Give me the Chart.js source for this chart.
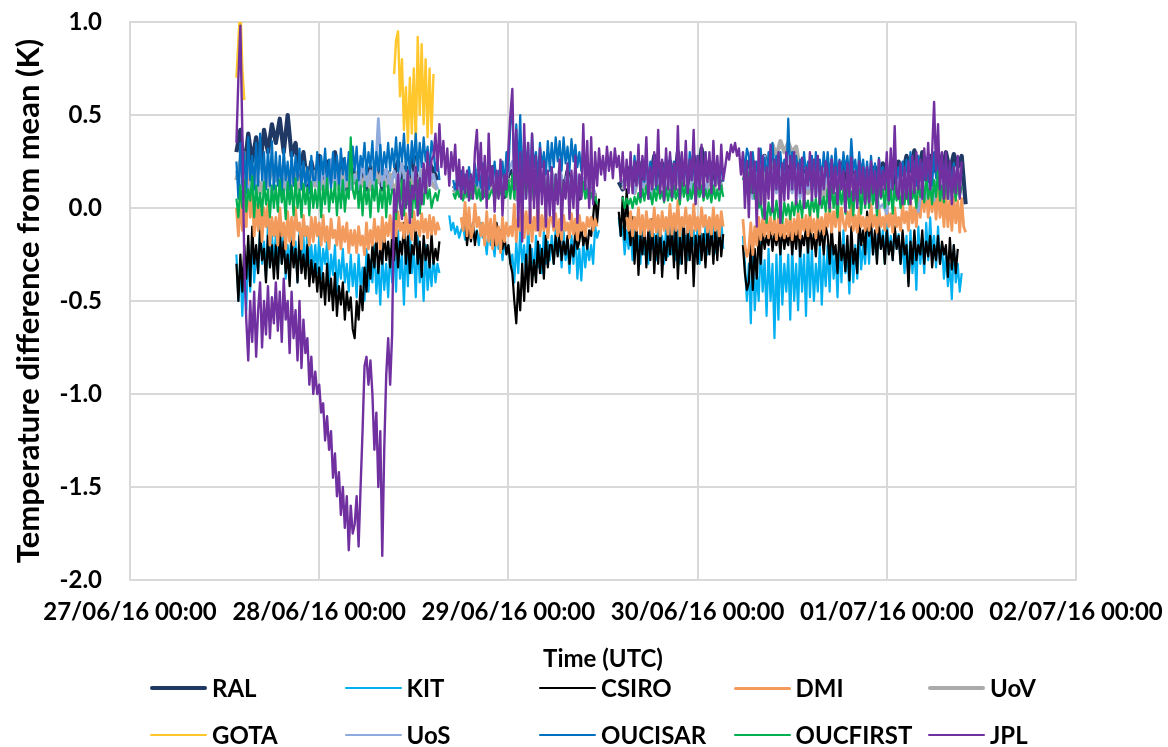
<!DOCTYPE html>
<html>
<head>
<meta charset="utf-8">
<title>Temperature difference from mean</title>
<script src="https://cdn.jsdelivr.net/npm/chart.js@4.4.1/dist/chart.umd.min.js"></script>
<style>
  html, body { margin: 0; padding: 0; background: #ffffff; }
  #wrap { position: relative; width: 1168px; height: 747px; overflow: hidden; }
  #chart { position: absolute; left: 0; top: 0; }
  .leg { position: absolute; height: 0; font: bold 24px Lato, "Open Sans", sans-serif; color: #000; white-space: nowrap; }
  .leg .sw { position: absolute; left: 0; width: 57px; }
  .leg .tx { position: absolute; left: 62px; top: -15px; line-height: 30px; }
</style>
</head>
<body>
<div id="wrap">
  <canvas id="chart" width="1168" height="747"></canvas>
  <div id="legend"></div>
</div>
<script>
// Hours are counted from 27/06/16 00:00 UTC; every series starts at START_HOUR
const START_HOUR = 13.5;
const HALF_HOUR = 0.5;
const QUARTER_HOUR = 0.25;

const TICK_LABELS = ['27/06/16 00:00', '28/06/16 00:00', '29/06/16 00:00', '30/06/16 00:00', '01/07/16 00:00', '02/07/16 00:00'];
const SERIES_NAMES = ['RAL', 'KIT', 'CSIRO', 'DMI', 'UoV', 'GOTA', 'UoS', 'OUCISAR', 'OUCFIRST', 'JPL'];

// Difference from the mean (K). Half-hourly series: 10 values per row; quarter-hourly: 20 per row (5 hours)
const RAL = [
  0.3, 0.42, 0.2, 0.4, 0.25, 0.38, 0.22, 0.42, 0.3, 0.45,
  0.35, 0.48, 0.3, 0.5, 0.28, 0.35, 0.15, 0.3, 0.12, 0.25,
  0.15, 0.28, 0.12, 0.25, 0.18, 0.3, 0.14, 0.26, 0.1, 0.22,
  0.18, 0.08, 0.2, 0.1, 0.22, 0.12, 0.25, 0.1, 0.2, 0.15,
  0.18, 0.25, 0.12, 0.22, 0.15, 0.28, 0.1, 0.2, 0.16, 0.24,
  0.2, 0.15, null, null, null, 0.12, 0.1, 0.18, 0.08, 0.15,
  0.12, 0.2, 0.08, 0.18, 0.1, 0.22, 0.12, 0.2, 0.06, 0.18,
  0.2, 0.05, 0.25, 0.1, 0.22, 0.08, 0.2, 0.12, 0.18, 0.05,
  0.15, 0.05, 0.18, 0.08, 0.2, 0.1, 0.16, 0.05, 0.14, 0.08,
  0.12, 0.06, null, null, null, null, null, 0.14, 0.1, 0.2,
  0.22, 0.12, 0.25, 0.1, 0.2, 0.15, 0.28, 0.12, 0.24, 0.18,
  0.25, 0.12, 0.3, 0.15, 0.22, 0.1, 0.28, 0.14, 0.32, 0.18,
  0.25, 0.12, 0.22, 0.1, null, null, null, null, null, 0.2,
  0.25, 0.1, 0.22, 0.15, 0.28, 0.12, 0.25, 0.1, 0.2, 0.14,
  0.22, 0.1, 0.25, 0.12, 0.2, 0.15, 0.24, 0.1, 0.18, 0.12,
  0.2, 0.1, 0.22, 0.14, 0.25, 0.12, 0.2, 0.15, 0.22, 0.1,
  0.2, 0.12, 0.22, 0.1, 0.24, 0.15, 0.2, 0.12, 0.25, 0.18,
  0.28, 0.2, 0.31, 0.18, 0.3, 0.22, 0.28, 0.2, 0.3, 0.19,
  0.3, 0.2, 0.29, 0.22, 0.28, 0.02
];

const KIT = [
  -0.25, -0.5, -0.3, -0.58, -0.28, -0.55, -0.2, -0.45, -0.15, -0.4, -0.22, -0.35, -0.1, -0.3, -0.18, -0.38, -0.08, -0.32, -0.15, -0.28,
  -0.15, -0.35, -0.08, -0.3, -0.12, -0.38, -0.2, -0.32, -0.1, -0.28, -0.18, -0.4, -0.12, -0.3, -0.15, -0.36, -0.1, -0.3, -0.2, -0.34,
  -0.2, -0.35, -0.15, -0.38, -0.22, -0.3, -0.18, -0.42, -0.25, -0.36, -0.2, -0.45, -0.28, -0.38, -0.22, -0.4, -0.3, -0.45, -0.25, -0.42,
  -0.3, -0.48, -0.25, -0.42, -0.32, -0.5, -0.22, -0.45, -0.28, -0.4, -0.2, -0.46, -0.3, -0.52, -0.25, -0.44, -0.3, -0.48, -0.22, -0.4,
  -0.2, -0.45, -0.12, -0.38, -0.25, -0.52, -0.18, -0.42, -0.1, -0.35, -0.22, -0.48, -0.15, -0.4, -0.28, -0.5, -0.2, -0.44, -0.3, -0.42,
  -0.25, -0.4, -0.3, -0.35, null, null, null, null, -0.04, -0.12, -0.08, -0.14, -0.1, -0.16, -0.12, -0.09, -0.17, -0.1, -0.15, -0.12,
  -0.1, -0.17, -0.12, -0.2, -0.08, -0.16, -0.15, -0.25, -0.12, -0.2, -0.18, -0.26, -0.12, -0.22, -0.15, -0.28, -0.18, -0.24, -0.2, -0.3,
  -0.25, -0.4, -0.18, -0.35, -0.12, -0.3, -0.2, -0.38, -0.1, -0.28, -0.22, -0.36, -0.15, -0.32, -0.2, -0.35, -0.12, -0.3, -0.18, -0.28,
  -0.15, -0.3, -0.1, -0.25, -0.18, -0.32, -0.12, -0.28, -0.2, -0.35, -0.15, -0.3, -0.12, -0.38, -0.22, -0.39, -0.18, -0.32, -0.2, -0.28,
  -0.2, -0.3, -0.1, -0.16, -0.12, null, null, null, null, null, null, null, null, null, -0.05, -0.15, -0.1, -0.25, -0.12, -0.22,
  -0.12, -0.28, -0.05, -0.22, -0.15, -0.3, -0.08, -0.25, -0.18, -0.3, -0.1, -0.22, -0.14, -0.28, -0.06, -0.24, -0.15, -0.3, -0.1, -0.26,
  -0.1, -0.25, -0.06, -0.28, -0.12, -0.3, -0.08, -0.22, -0.15, -0.28, -0.05, -0.24, -0.12, -0.26, -0.08, -0.3, -0.14, -0.22, -0.1, -0.25,
  -0.1, -0.2, -0.08, -0.24, -0.12, -0.2, -0.06, -0.22, null, null, null, null, null, null, null, null, null, -0.15, -0.3, -0.5,
  -0.3, -0.62, -0.2, -0.55, -0.35, -0.5, -0.18, -0.45, -0.28, -0.58, -0.22, -0.5, -0.3, -0.7, -0.25, -0.6, -0.2, -0.52, -0.3, -0.45,
  -0.25, -0.6, -0.2, -0.5, -0.3, -0.55, -0.18, -0.45, -0.25, -0.58, -0.15, -0.48, -0.22, -0.5, -0.3, -0.45, -0.2, -0.52, -0.25, -0.42,
  -0.2, -0.45, -0.15, -0.38, -0.25, -0.48, -0.18, -0.4, -0.12, -0.35, -0.22, -0.46, -0.15, -0.4, -0.2, -0.38, -0.12, -0.33, -0.2, -0.3,
  -0.1, -0.3, -0.06, -0.25, -0.14, -0.28, -0.08, -0.22, -0.12, -0.3, -0.06, -0.24, -0.15, -0.28, -0.1, -0.22, -0.14, -0.3, -0.18, -0.35,
  -0.15, -0.4, -0.12, -0.35, -0.2, -0.44, -0.1, -0.3, -0.18, -0.35, -0.08, -0.28, -0.05, -0.25, -0.15, -0.32, -0.1, -0.3, -0.2, -0.38,
  -0.25, -0.42, -0.3, -0.49, -0.2, -0.4, -0.3, -0.45, -0.35, null, null
];

const CSIRO = [
  -0.3, -0.5, -0.25, -0.45, -0.2, -0.38, -0.15, -0.42, -0.1, -0.3, -0.2, -0.35, -0.12, -0.28, -0.22, -0.4, -0.15, -0.32, -0.2, -0.38,
  -0.2, -0.38, -0.12, -0.3, -0.18, -0.35, -0.25, -0.42, -0.18, -0.32, -0.22, -0.4, -0.15, -0.35, -0.25, -0.38, -0.2, -0.42, -0.28, -0.4,
  -0.3, -0.45, -0.32, -0.48, -0.35, -0.52, -0.3, -0.5, -0.38, -0.55, -0.35, -0.58, -0.42, -0.52, -0.4, -0.6, -0.45, -0.55, -0.48, -0.65,
  -0.7, -0.5, -0.6, -0.42, -0.55, -0.32, -0.45, -0.25, -0.38, -0.2, -0.32, -0.15, -0.35, -0.22, -0.3, -0.12, -0.28, -0.18, -0.32, -0.15,
  -0.28, -0.12, -0.32, -0.18, -0.25, -0.08, -0.3, -0.15, -0.35, -0.2, -0.25, -0.1, -0.3, -0.18, -0.37, -0.15, -0.28, -0.2, -0.32, -0.14,
  -0.3, -0.22, -0.28, -0.18, null, null, null, null, null, null, null, null, null, null, null, null, -0.05, -0.2, -0.1, -0.18,
  -0.08, -0.2, -0.12, null, null, null, null, null, null, null, -0.1, -0.2, -0.08, -0.18, -0.12, -0.22, -0.15, -0.25, -0.2, -0.3,
  -0.35, -0.5, -0.62, -0.4, -0.55, -0.3, -0.5, -0.25, -0.45, -0.2, -0.42, -0.28, -0.4, -0.18, -0.35, -0.22, -0.38, -0.15, -0.32, -0.2,
  -0.2, -0.3, -0.15, -0.26, -0.13, -0.28, -0.18, -0.25, -0.15, -0.3, -0.2, -0.26, -0.12, -0.22, -0.18, -0.1, -0.2, -0.14, -0.22, -0.12,
  -0.15, -0.05, 0.08, -0.08, 0.05, null, null, null, null, null, null, null, null, null, -0.02, -0.15, 0.06, -0.17, 0.1, -0.1,
  -0.2, -0.05, -0.3, -0.1, -0.36, -0.15, -0.25, -0.08, -0.32, -0.12, -0.28, -0.06, -0.35, -0.15, -0.3, -0.1, -0.37, -0.18, -0.28, -0.12,
  -0.25, -0.1, -0.32, -0.08, -0.38, -0.15, -0.3, -0.06, -0.35, -0.12, -0.28, -0.1, -0.42, -0.15, -0.3, -0.08, -0.28, -0.14, -0.32, -0.12,
  -0.25, -0.1, -0.3, -0.12, -0.28, -0.08, -0.26, -0.14, null, null, null, null, null, null, null, null, null, -0.2, -0.35, -0.44,
  -0.4, -0.2, -0.44, -0.22, -0.38, -0.15, -0.3, -0.12, -0.22, -0.15, -0.2, -0.1, -0.23, -0.14, -0.2, -0.12, -0.25, -0.1, -0.22, -0.15,
  -0.2, -0.1, -0.25, -0.12, -0.22, -0.08, -0.26, -0.15, -0.2, -0.1, -0.24, -0.08, -0.22, -0.14, -0.26, -0.1, -0.2, -0.12, -0.25, -0.1,
  -0.15, -0.3, -0.1, -0.25, -0.2, -0.35, -0.12, -0.28, -0.2, -0.34, -0.15, -0.39, -0.1, -0.3, -0.22, -0.35, -0.05, -0.2, -0.12, -0.25,
  -0.02, -0.15, -0.08, -0.25, -0.12, -0.3, -0.1, -0.22, -0.15, -0.3, -0.12, -0.25, -0.18, -0.28, -0.1, -0.22, -0.15, -0.3, -0.12, -0.25,
  -0.2, -0.42, -0.18, -0.3, -0.12, -0.28, -0.2, -0.25, -0.12, -0.3, -0.18, -0.26, -0.15, -0.32, -0.2, -0.28, -0.15, -0.3, -0.18, -0.25,
  -0.2, -0.37, -0.16, -0.33, -0.2, -0.35, -0.22, null, null, null, null
];

const DMI = [
  0.0, -0.15, 0.05, -0.12, 0.3, -0.1, 0.2, -0.05, 0.1, -0.15, 0.02, -0.12, 0.05, -0.18, 0.0, -0.1, 0.02, -0.2, -0.05, -0.15,
  -0.05, -0.2, 0.0, -0.15, -0.08, -0.22, -0.02, -0.18, -0.05, -0.2, 0.0, -0.12, -0.08, -0.22, -0.04, -0.15, -0.1, -0.2, -0.05, -0.18,
  -0.05, -0.15, -0.08, -0.2, -0.04, -0.18, -0.1, -0.22, -0.06, -0.16, -0.12, -0.2, -0.05, -0.22, -0.1, -0.18, -0.08, -0.24, -0.12, -0.2,
  -0.12, -0.24, -0.1, -0.2, -0.15, -0.25, -0.08, -0.22, -0.12, -0.2, -0.06, -0.18, -0.1, -0.22, -0.05, -0.18, -0.08, -0.15, -0.04, -0.16,
  -0.05, -0.15, -0.02, -0.12, -0.08, -0.16, -0.03, -0.14, -0.06, -0.17, -0.02, -0.12, -0.07, -0.15, -0.03, -0.13, -0.06, -0.16, -0.04, -0.14,
  -0.05, -0.14, -0.08, -0.12, null, null, null, null, null, null, null, null, null, null, -0.05, -0.12, 0.03, -0.15, 0.0, -0.16,
  -0.12, 0.02, -0.1, -0.05, -0.15, -0.08, -0.2, -0.02, -0.18, -0.06, -0.22, -0.04, -0.2, -0.1, -0.24, -0.05, -0.18, -0.08, -0.15, -0.1,
  -0.15, 0.02, -0.18, -0.05, -0.12, 0.04, -0.16, -0.02, -0.14, 0.0, -0.18, -0.05, -0.12, 0.02, -0.15, -0.04, -0.12, -0.02, -0.16, -0.05,
  -0.05, -0.12, -0.03, -0.15, -0.06, -0.17, -0.04, -0.12, -0.08, -0.16, -0.03, -0.14, -0.06, -0.17, -0.04, -0.12, -0.08, -0.15, -0.05, -0.1,
  -0.05, -0.12, -0.06, -0.1, null, null, null, null, null, null, null, null, null, null, null, null, null, null, -0.05, -0.12,
  -0.02, -0.15, -0.05, -0.12, 0.0, -0.14, -0.04, -0.15, -0.02, -0.12, -0.06, -0.15, 0.0, -0.13, -0.04, -0.15, -0.02, -0.12, -0.05, -0.14,
  0.02, -0.14, -0.03, -0.12, 0.04, -0.15, -0.05, -0.1, 0.0, -0.13, -0.04, -0.15, 0.02, -0.12, -0.05, -0.14, 0.0, -0.1, -0.04, -0.13,
  -0.05, -0.14, 0.0, -0.12, -0.04, -0.15, -0.02, -0.1, null, null, null, null, null, null, null, null, null, -0.06, -0.2, -0.26,
  -0.22, -0.08, -0.25, -0.1, -0.2, -0.05, -0.17, -0.06, -0.15, -0.04, -0.16, -0.05, -0.14, -0.06, -0.17, -0.05, -0.15, -0.08, -0.16, -0.06,
  -0.15, -0.04, -0.17, -0.06, -0.14, -0.02, -0.16, -0.05, -0.12, -0.04, -0.15, -0.02, -0.13, -0.06, -0.16, -0.04, -0.12, -0.05, -0.14, -0.03,
  -0.1, 0.02, -0.13, -0.02, -0.1, 0.04, -0.12, 0.0, -0.08, -0.12, -0.02, -0.1, 0.03, -0.12, -0.04, -0.13, 0.0, -0.1, -0.05, -0.12,
  -0.05, -0.12, 0.02, -0.1, -0.04, -0.13, 0.0, -0.1, -0.05, -0.12, 0.02, -0.1, -0.03, -0.13, 0.0, -0.1, -0.05, -0.12, 0.02, -0.08,
  -0.02, -0.12, 0.05, -0.08, 0.0, -0.1, 0.06, -0.05, 0.1, -0.02, 0.12, -0.05, 0.08, -0.02, 0.1, -0.06, 0.12, -0.05, 0.06, -0.1,
  0.08, -0.1, 0.05, -0.12, 0.06, -0.08, 0.04, -0.13, 0.05, -0.1, -0.13
];

const UoV = [
  0.15, 0.25, 0.1, 0.22, 0.12, 0.2, 0.08, 0.18, 0.12, 0.22,
  0.15, 0.22, 0.1, 0.2, 0.12, 0.18, 0.1, 0.22, 0.14, 0.2,
  0.12, 0.2, 0.1, 0.18, 0.14, 0.22, 0.1, 0.2, 0.12, 0.18,
  0.15, 0.2, 0.12, 0.18, 0.1, 0.22, 0.14, 0.2, 0.12, 0.18,
  0.08, 0.15, 0.05, 0.2, 0.1, 0.18, 0.12, 0.2, 0.1, 0.16,
  0.12, 0.1, null, null, null, 0.1, 0.08, 0.12, 0.06, 0.1,
  0.08, 0.12, 0.05, 0.1, 0.08, 0.14, 0.06, 0.12, 0.08, 0.15,
  0.15, 0.05, 0.18, 0.08, 0.15, 0.05, 0.14, 0.1, 0.16, 0.08,
  0.14, 0.08, 0.15, 0.1, 0.12, 0.06, 0.15, 0.08, 0.12, 0.06,
  0.1, 0.06, null, null, null, null, null, null, 0.1, 0.14,
  0.15, 0.08, 0.18, 0.1, 0.14, 0.06, 0.16, 0.1, 0.18, 0.08,
  0.15, 0.08, 0.18, 0.1, 0.16, 0.06, 0.2, 0.1, 0.15, 0.08,
  0.16, 0.08, 0.18, 0.1, null, null, null, null, null, 0.15,
  0.15, 0.08, 0.12, 0.02, 0.18, 0.1, 0.34, 0.28, 0.36, 0.3,
  0.35, 0.3, 0.33, 0.2, 0.15, 0.08, 0.18, 0.1, 0.15, 0.06,
  0.15, 0.05, 0.18, 0.1, 0.14, 0.06, 0.16, 0.08, 0.12, 0.05,
  0.12, 0.04, 0.15, 0.08, 0.12, 0.05, 0.14, 0.06, 0.16, 0.08,
  0.14, 0.06, 0.16, 0.08, 0.12, 0.05, 0.18, 0.1, 0.15, 0.06,
  0.14, 0.06, 0.12, 0.08, 0.1, null
];

const GOTA = [
  0.7, 0.9, 1.1, 0.75, 0.58, null, null, null, null, null, null, null, null, null, null, null, null, null, null, null,
  null, null, null, null, null, null, null, null, null, null, null, null, null, null, null, null, null, null, null, null,
  null, null, null, null, null, null, null, null, null, null, null, null, null, null, null, null, null, null, null, null,
  null, null, null, null, null, null, null, null, null, null, null, null, null, null, null, null, null, null, null, null,
  0.72, 0.9, 0.95, 0.6, 0.8, 0.42, 0.65, 0.35, 0.7, 0.4, 0.75, 0.33, 0.92, 0.5, 0.88, 0.45, 0.8, 0.38, 0.75, 0.4,
  0.72, null, null, null, null, null, null, null, null, null, null, null, null, null, null, null, null, null, null, null,
  null, null, null, null, null, null, null, null, null, null, null, null, null, null, null, null, null, null, null, null,
  null, null, null, null, null, null, null, null, null, null, null, null, null, null, null, null, null, null, null, null,
  null, null, null, null, null, null, null, null, null, null, null, null, null, null, null, null, null, null, null, null,
  null, null, null, null, null, null, null, null, null, null, null, null, null, null, null, null, null, null, null, null,
  null, null, null, null, null, null, null, null, null, null, null, null, null, null, null, null, null, null, null, null,
  null, null, null, null, null, null, null, null, null, null, null, null, null, null, null, null, null, null, null, null,
  null, null, null, null, null, null, null, null, null, null, null, null, null, null, null, null, null, null, null, null,
  null, null, null, null, null, null, null, null, null, null, null, null, null, null, null, null, null, null, null, null,
  null, null, null, null, null, null, null, null, null, null, null, null, null, null, null, null, null, null, null, null,
  null, null, null, null, null, null, null, null, null, null, null, null, null, null, null, null, null, null, null, null,
  null, null, null, null, null, null, null, null, null, null, null, null, null, null, null, null, null, null, null, null,
  null, null, null, null, null, null, null, null, null, null, null, null, null, null, null, null, null, null, null, null,
  null, null, null, null, null, null, null, null, null, null, null
];

const UoS = [
  0.2, 0.1, 0.25, 0.05, 0.22, 0.08, 0.28, 0.12, 0.2, 0.06,
  0.22, 0.1, 0.25, 0.05, 0.2, 0.12, 0.24, 0.08, 0.18, 0.1,
  0.2, 0.08, 0.22, 0.1, 0.26, 0.12, 0.2, 0.05, 0.22, 0.1,
  0.18, 0.1, 0.24, 0.12, 0.2, 0.08, 0.48, 0.12, 0.22, 0.1,
  0.2, 0.12, 0.25, 0.1, 0.22, 0.15, 0.28, 0.1, 0.2, 0.12,
  0.18, 0.1, null, null, null, 0.12, 0.08, 0.15, 0.1, 0.18,
  0.12, 0.2, 0.08, 0.16, 0.1, 0.2, 0.12, 0.18, 0.1, 0.2,
  0.25, 0.1, 0.2, 0.05, 0.22, 0.08, 0.18, 0.1, 0.2, 0.08,
  0.2, 0.1, 0.22, 0.12, 0.18, 0.08, 0.2, 0.1, 0.16, 0.08,
  0.14, 0.08, null, null, null, null, null, null, 0.12, 0.18,
  0.2, 0.08, 0.22, 0.1, 0.18, 0.05, 0.2, 0.12, 0.22, 0.08,
  0.18, 0.06, 0.22, 0.1, 0.2, 0.05, 0.24, 0.12, 0.2, 0.08,
  0.2, 0.1, 0.22, 0.08, null, null, null, null, null, 0.22,
  0.2, 0.05, 0.24, 0.1, 0.28, 0.12, 0.2, 0.08, 0.22, 0.1,
  0.2, 0.08, 0.22, 0.05, 0.18, 0.1, 0.2, 0.06, 0.22, 0.1,
  0.18, 0.06, 0.2, 0.1, 0.15, 0.05, 0.2, 0.08, 0.18, 0.04,
  0.15, 0.05, 0.18, 0.0, 0.02, -0.03, 0.15, 0.05, 0.18, 0.08,
  0.15, 0.05, 0.1, -0.02, 0.12, 0.06, 0.16, 0.04, 0.2, 0.08,
  0.15, 0.05, 0.18, 0.1, 0.12, null
];

const OUCISAR = [
  0.25, 0.05, 0.35, 0.12, 0.3, 0.08, 0.38, 0.15, 0.28, 0.1, 0.35, 0.12, 0.4, 0.15, 0.3, 0.1, 0.32, 0.12, 0.36, 0.1,
  0.3, 0.12, 0.28, 0.08, 0.32, 0.15, 0.25, 0.1, 0.3, 0.12, 0.28, 0.15, 0.32, 0.1, 0.25, 0.12, 0.22, 0.08, 0.28, 0.15,
  0.15, 0.3, 0.12, 0.28, 0.18, 0.32, 0.14, 0.26, 0.1, 0.3, 0.16, 0.28, 0.12, 0.32, 0.18, 0.27, 0.15, 0.3, 0.2, 0.33,
  0.2, 0.33, 0.15, 0.28, 0.22, 0.35, 0.18, 0.3, 0.22, 0.36, 0.15, 0.3, 0.2, 0.34, 0.18, 0.3, 0.22, 0.35, 0.2, 0.32,
  0.22, 0.38, 0.2, 0.35, 0.25, 0.4, 0.2, 0.34, 0.18, 0.36, 0.24, 0.4, 0.2, 0.35, 0.22, 0.38, 0.25, 0.33, 0.2, 0.36,
  0.3, 0.2, 0.26, 0.15, null, null, null, null, null, null, 0.15, 0.1, 0.16, 0.12, 0.2, 0.1, 0.18, 0.12, 0.22, 0.14,
  0.15, 0.24, 0.12, 0.2, 0.11, 0.24, 0.14, 0.2, 0.1, 0.22, 0.15, 0.25, 0.12, 0.2, 0.15, 0.25, 0.12, 0.3, 0.2, 0.45,
  0.55, 0.15, 0.45, 0.2, 0.5, 0.12, 0.38, 0.2, 0.35, 0.12, 0.4, 0.22, 0.3, 0.15, 0.35, 0.22, 0.3, 0.18, 0.36, 0.2,
  0.35, 0.22, 0.38, 0.25, 0.36, 0.2, 0.38, 0.24, 0.33, 0.2, 0.37, 0.25, 0.34, 0.22, 0.3, 0.2, 0.32, 0.22, 0.28, 0.18,
  0.25, 0.18, 0.22, 0.15, null, null, null, null, null, null, null, null, null, null, null, null, null, null, 0.2, 0.12,
  0.25, 0.12, 0.28, 0.15, 0.22, 0.1, 0.26, 0.14, 0.3, 0.12, 0.25, 0.15, 0.28, 0.1, 0.3, 0.16, 0.24, 0.12, 0.28, 0.15,
  0.28, 0.12, 0.25, 0.15, 0.3, 0.1, 0.27, 0.16, 0.24, 0.12, 0.3, 0.15, 0.26, 0.1, 0.28, 0.14, 0.25, 0.12, 0.3, 0.16,
  0.25, 0.12, 0.28, 0.15, 0.24, 0.1, 0.26, 0.14, null, null, null, null, null, null, null, null, null, 0.3, 0.2, 0.32,
  0.28, 0.15, 0.3, 0.18, 0.25, 0.12, 0.32, 0.2, 0.27, 0.15, 0.3, 0.18, 0.35, 0.2, 0.28, 0.15, 0.3, 0.18, 0.26, 0.14,
  0.48, 0.18, 0.3, 0.15, 0.28, 0.2, 0.26, 0.12, 0.3, 0.18, 0.25, 0.15, 0.28, 0.12, 0.3, 0.18, 0.26, 0.15, 0.3, 0.17,
  0.3, 0.17, 0.28, 0.15, 0.32, 0.18, 0.26, 0.15, 0.3, 0.2, 0.28, 0.16, 0.37, 0.2, 0.26, 0.15, 0.3, 0.18, 0.26, 0.14,
  0.25, 0.12, 0.28, 0.15, 0.24, 0.1, 0.27, 0.18, 0.22, 0.12, 0.26, 0.15, 0.24, 0.1, 0.28, 0.16, 0.22, 0.12, 0.25, 0.15,
  0.26, 0.14, 0.3, 0.16, 0.25, 0.12, 0.28, 0.18, 0.24, 0.15, 0.27, 0.14, 0.25, 0.12, 0.3, 0.16, 0.24, 0.14, 0.26, 0.15,
  0.25, 0.12, 0.22, 0.15, 0.24, 0.1, 0.2, 0.14, 0.18, null, null
];

const OUCFIRST = [
  0.05, -0.05, 0.12, 0.0, 0.15, -0.02, 0.1, 0.04, 0.17, -0.05, 0.12, 0.0, 0.08, -0.04, 0.14, 0.02, 0.1, -0.05, 0.12, 0.0,
  0.12, -0.02, 0.15, 0.03, 0.1, -0.06, 0.14, 0.02, 0.12, -0.04, 0.16, 0.0, 0.1, -0.05, 0.13, 0.02, 0.11, -0.04, 0.14, 0.0,
  0.1, 0.0, 0.14, -0.05, 0.12, 0.02, 0.16, -0.02, 0.1, 0.03, 0.14, -0.04, 0.12, 0.0, 0.15, -0.02, 0.1, 0.05, 0.38, 0.1,
  0.05, 0.15, 0.0, 0.12, -0.04, 0.14, 0.02, 0.1, -0.05, 0.12, 0.04, 0.15, -0.02, 0.1, 0.0, 0.14, -0.05, 0.12, 0.02, 0.1,
  0.08, -0.06, 0.12, 0.0, 0.15, -0.04, 0.1, 0.02, 0.14, -0.05, 0.12, 0.0, 0.15, -0.03, 0.1, 0.02, 0.14, 0.05, 0.1, 0.0,
  0.05, 0.08, 0.04, 0.1, null, null, null, null, null, null, 0.08, 0.05, 0.1, 0.06, 0.08, 0.04, 0.1, 0.06, 0.12, 0.05,
  0.08, 0.12, 0.05, 0.1, 0.04, 0.12, 0.06, 0.1, 0.05, 0.08, 0.1, 0.04, 0.12, 0.06, 0.1, 0.05, 0.12, 0.06, 0.15, 0.05,
  0.18, 0.05, 0.2, 0.08, 0.15, 0.05, 0.18, 0.06, 0.2, 0.08, 0.14, 0.05, 0.18, 0.06, 0.12, 0.08, 0.16, 0.05, 0.15, 0.06,
  0.15, 0.05, 0.18, 0.08, 0.12, 0.05, 0.15, 0.06, 0.18, 0.05, 0.12, 0.08, 0.15, 0.05, 0.1, 0.06, 0.14, 0.05, 0.1, 0.04,
  0.08, 0.04, 0.06, 0.02, null, null, null, null, null, null, null, null, null, null, null, null, 0.06, 0.0, 0.05, 0.02,
  0.05, 0.0, 0.06, 0.02, 0.08, 0.03, 0.1, 0.04, 0.12, 0.05, 0.08, 0.02, 0.1, 0.04, 0.12, 0.05, 0.09, 0.03, 0.11, 0.04,
  0.1, 0.04, 0.12, 0.05, 0.1, 0.02, 0.14, 0.06, 0.12, 0.04, 0.1, 0.05, 0.13, 0.03, 0.11, 0.06, 0.12, 0.04, 0.1, 0.05,
  0.1, 0.03, 0.12, 0.05, 0.1, 0.04, 0.12, 0.06, null, null, null, null, null, null, null, null, null, 0.15, 0.19, 0.08,
  0.19, 0.08, 0.16, 0.05, 0.12, 0.0, 0.03, -0.05, 0.02, -0.08, 0.03, -0.04, 0.02, -0.06, 0.04, -0.05, 0.02, -0.08, 0.03, -0.04,
  0.02, -0.06, 0.03, -0.04, 0.05, -0.02, 0.04, -0.05, 0.06, 0.0, 0.04, -0.04, 0.06, -0.02, 0.05, -0.05, 0.08, 0.0, 0.06, -0.02,
  0.1, -0.02, 0.13, 0.0, 0.08, -0.05, 0.12, 0.02, 0.1, -0.03, 0.13, 0.0, 0.09, -0.04, 0.12, 0.02, 0.1, -0.03, 0.12, 0.0,
  0.12, 0.0, 0.15, 0.02, 0.1, -0.04, 0.13, 0.05, 0.1, 0.0, 0.14, 0.02, 0.1, -0.03, 0.12, 0.04, 0.1, 0.0, 0.13, 0.02,
  0.12, 0.02, 0.15, 0.05, 0.1, 0.0, 0.14, 0.06, 0.12, 0.03, 0.18, 0.05, 0.12, 0.02, 0.15, 0.06, 0.2, 0.04, 0.12, 0.03,
  0.15, 0.05, 0.18, 0.08, 0.12, 0.04, 0.16, 0.06, 0.12, null, null
];

const JPL = [
  0.35, 0.7, 0.98, 0.4, -0.3, -0.6, -0.82, -0.5, -0.72, -0.45, -0.8, -0.55, -0.4, -0.75, -0.5, -0.68, -0.42, -0.7, -0.48, -0.62,
  -0.4, -0.66, -0.45, -0.72, -0.38, -0.6, -0.5, -0.78, -0.45, -0.7, -0.55, -0.82, -0.5, -0.86, -0.6, -0.78, -0.7, -0.95, -0.8, -1.0,
  -0.88, -1.0, -0.95, -1.1, -1.05, -1.25, -1.12, -1.3, -1.2, -1.45, -1.32, -1.55, -1.42, -1.65, -1.5, -1.72, -1.55, -1.84, -1.6, -1.75,
  -1.7, -1.55, -1.82, -1.5, -1.2, -0.85, -0.8, -0.95, -0.82, -1.0, -1.3, -1.1, -1.5, -1.2, -1.87, -1.3, -0.9, -0.7, -0.95, -0.68,
  0.1, -0.02, 0.18, 0.02, -0.06, 0.15, 0.0, 0.2, -0.08, 0.12, 0.05, 0.22, -0.04, 0.16, 0.02, 0.24, 0.08, 0.3, 0.12, 0.26,
  0.28, 0.4, 0.2, 0.45, 0.22, 0.36, 0.18, 0.32, 0.12, 0.3, 0.2, 0.34, 0.1, 0.26, 0.05, 0.22, 0.08, 0.2, 0.04, 0.18,
  0.05, 0.3, 0.42, 0.15, 0.35, 0.05, 0.28, 0.0, 0.4, 0.12, 0.22, -0.02, 0.2, 0.05, 0.26, -0.04, 0.18, 0.1, 0.32, 0.5,
  0.64, 0.1, 0.42, -0.1, 0.3, -0.18, 0.45, 0.05, 0.35, -0.08, 0.4, 0.0, 0.28, -0.12, 0.32, 0.02, 0.25, -0.1, 0.2, -0.04,
  0.22, -0.1, 0.18, 0.02, 0.26, -0.12, 0.15, 0.05, 0.24, -0.06, 0.2, 0.0, 0.28, -0.08, 0.18, 0.05, 0.45, 0.1, 0.36, 0.0,
  0.38, 0.02, 0.3, 0.12, 0.32, 0.18, 0.28, 0.15, 0.33, 0.2, 0.3, 0.16, 0.32, 0.22, 0.28, 0.14, 0.3, 0.1, 0.26, 0.08,
  0.3, 0.08, 0.25, 0.12, 0.34, 0.06, 0.28, 0.15, 0.38, 0.05, 0.22, 0.1, 0.3, 0.12, 0.42, 0.08, 0.26, 0.04, 0.32, 0.1,
  0.3, 0.06, 0.24, 0.1, 0.44, 0.05, 0.3, 0.12, 0.36, 0.08, 0.26, 0.15, 0.42, 0.02, 0.28, 0.1, 0.34, 0.06, 0.3, 0.14,
  0.3, 0.08, 0.36, 0.12, 0.28, 0.1, 0.34, 0.15, 0.22, 0.3, 0.26, 0.34, 0.3, 0.35, 0.28, 0.32, 0.18, 0.3, 0.0, 0.25,
  -0.05, 0.3, 0.08, 0.25, -0.1, 0.32, 0.02, 0.28, -0.06, 0.22, 0.05, 0.34, -0.02, 0.26, 0.1, 0.3, -0.08, 0.24, 0.04, 0.3,
  0.05, 0.28, 0.1, 0.3, 0.02, 0.24, 0.08, 0.27, 0.0, 0.22, 0.12, 0.3, 0.04, 0.26, 0.06, 0.28, 0.02, 0.22, 0.1, 0.25,
  0.2, 0.0, 0.26, 0.08, 0.22, 0.02, 0.25, 0.1, 0.2, -0.02, 0.24, 0.06, 0.27, 0.04, 0.2, 0.0, 0.25, 0.08, 0.22, 0.02,
  0.22, 0.03, 0.25, 0.08, 0.2, 0.0, 0.26, 0.06, 0.2, 0.1, 0.3, 0.04, 0.32, 0.1, 0.44, 0.08, 0.05, 0.24, 0.02, 0.22,
  0.05, 0.25, 0.02, 0.28, 0.08, 0.3, 0.1, 0.26, 0.05, 0.32, 0.15, 0.35, 0.1, 0.3, 0.57, 0.2, 0.45, 0.1, 0.3, 0.05,
  0.3, 0.05, 0.25, 0.02, 0.22, 0.08, 0.28, 0.05, 0.25, null, null
];

const SERIES_VALUES = [RAL, KIT, CSIRO, DMI, UoV, GOTA, UoS, OUCISAR, OUCFIRST, JPL];
const SERIES_STEPS = [HALF_HOUR, QUARTER_HOUR, QUARTER_HOUR, QUARTER_HOUR, HALF_HOUR, QUARTER_HOUR, HALF_HOUR, QUARTER_HOUR, QUARTER_HOUR, QUARTER_HOUR];

// Line styles, in the same order as the names
const LINE_COLORS = ['#203864', '#00B0F0', '#000000', '#F29B5C', '#ABABAB', '#FFC72C', '#8FAADC', '#0070C0', '#00B050', '#7030A0'];
const LINE_WIDTHS = [4.2, 2.2, 2.2, 2.8, 4.2, 2.4, 2.8, 2.2, 2.2, 2.4];
const LEGEND_WIDTHS = [4, 2, 2, 3, 4, 2, 2, 2, 2, 2];

const FONT_FAMILY = 'Lato, "Open Sans", sans-serif';
const GRID_COLOR = '#D9D9D9';

const datasets = SERIES_NAMES.map((name, i) => ({
  label: name,
  data: SERIES_VALUES[i].map((v, k) => ({ x: START_HOUR + k * SERIES_STEPS[i], y: v })),
  borderColor: LINE_COLORS[i],
  backgroundColor: LINE_COLORS[i],
  borderWidth: LINE_WIDTHS[i],
  borderJoinStyle: 'round',
  pointRadius: 0,
  pointHoverRadius: 0,
  tension: 0,
  spanGaps: false,
  clip: 0,
  // later series are painted over earlier ones
  order: SERIES_NAMES.length - 1 - i
}));

new Chart(document.getElementById('chart'), {
  type: 'line',
  data: { datasets },
  options: {
    responsive: false,
    animation: false,
    events: [],
    layout: { padding: { left: 0, top: 22, right: 92, bottom: 0 } },
    plugins: {
      legend: { display: false },
      tooltip: { enabled: false }
    },
    scales: {
      x: {
        type: 'linear',
        min: 0,
        max: 120,
        afterFit: (scale) => {
          scale.height = 167;
          scale.paddingLeft = 0;
          scale.paddingRight = 0;
        },
        ticks: {
          stepSize: 24,
          autoSkip: false,
          maxRotation: 0,
          padding: 18,
          color: '#000',
          font: { family: FONT_FAMILY, size: 24, weight: 'bold' },
          callback: (value) => TICK_LABELS[Math.round(value / 24)]
        },
        grid: { color: GRID_COLOR, lineWidth: 2, drawTicks: false },
        border: { color: GRID_COLOR, width: 2 },
        title: {
          display: true,
          text: 'Time (UTC)',
          color: '#000',
          font: { family: FONT_FAMILY, size: 24, weight: 'bold' },
          padding: { top: 0, bottom: 73 }
        }
      },
      y: {
        min: -2,
        max: 1,
        afterFit: (scale) => {
          scale.width = 130;
          scale.paddingTop = 0;
          scale.paddingBottom = 0;
        },
        ticks: {
          stepSize: 0.5,
          padding: 28,
          color: '#000',
          font: { family: FONT_FAMILY, size: 24, weight: 'bold' },
          callback: (value) => Number(value).toFixed(1)
        },
        grid: { color: GRID_COLOR, lineWidth: 2, drawTicks: false },
        border: { color: GRID_COLOR, width: 2 },
        title: {
          display: true,
          text: 'Temperature difference from mean (K)',
          color: '#000',
          font: { family: FONT_FAMILY, size: 31, weight: 'bold' },
          padding: { top: 10, bottom: 0 }
        }
      }
    }
  }
});

// Legend: five columns, two rows, a line sample followed by the series name
const legendBox = document.getElementById('legend');
const LEGEND_COL_X = [150, 344.5, 539, 733.5, 928];
const LEGEND_ROW_Y = [688, 735];
SERIES_NAMES.forEach((name, i) => {
  const item = document.createElement('div');
  item.className = 'leg';
  item.style.left = LEGEND_COL_X[i % 5] + 'px';
  item.style.top = LEGEND_ROW_Y[Math.floor(i / 5)] + 'px';
  const sw = document.createElement('div');
  sw.className = 'sw';
  sw.style.height = LEGEND_WIDTHS[i] + 'px';
  sw.style.top = (-LEGEND_WIDTHS[i] / 2) + 'px';
  sw.style.background = LINE_COLORS[i];
  sw.style.borderRadius = (LEGEND_WIDTHS[i] / 2) + 'px';
  const tx = document.createElement('div');
  tx.className = 'tx';
  tx.textContent = name;
  item.appendChild(sw);
  item.appendChild(tx);
  legendBox.appendChild(item);
});
</script>
</body>
</html>
